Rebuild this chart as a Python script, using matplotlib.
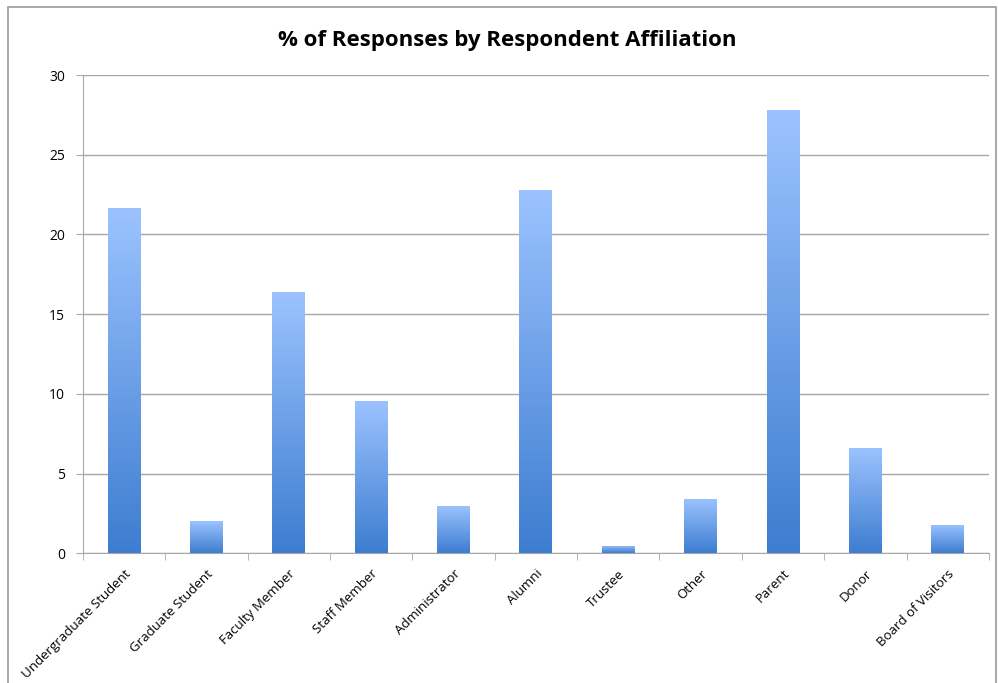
import numpy as np
import matplotlib
matplotlib.use("Agg")
from matplotlib import pyplot as plt
from matplotlib.colors import LinearSegmentedColormap
from matplotlib.patches import Rectangle

categories = ["Undergraduate Student", "Graduate Student", "Faculty Member", "Staff Member",
              "Administrator", "Alumni", "Trustee", "Other", "Parent", "Donor", "Board of Visitors"]
values = [21.65, 2.0, 16.4, 9.55, 2.95, 22.8, 0.45, 3.4, 27.8, 6.6, 1.8]
y_ticks = [0, 5, 10, 15, 20, 25, 30]

plt.rcParams['font.family'] = ['Open Sans', 'DejaVu Sans']

fig = plt.figure(figsize=(9.98, 6.83), dpi=100)
ax = fig.add_axes([0.083, 0.19, 0.908, 0.7])
# outer frame like the pasted chart
fig.patches.append(Rectangle((0.008, -0.01), 0.99, 1.0, transform=fig.transFigure,
                             fill=False, edgecolor='#9a9a9a', linewidth=1.2))

cmap = LinearSegmentedColormap.from_list("bars", ["#3d7dd0", "#9cc3ff"])
grad = np.linspace(0, 1, 256).reshape(-1, 1)

x = np.arange(len(categories))
bars = ax.bar(x, values, width=0.4, color='none', edgecolor='none', zorder=3)
for b in bars:
    x0, y0 = b.get_x(), b.get_y()
    im = ax.imshow(grad, extent=[x0, x0 + b.get_width(), y0, y0 + b.get_height()],
                   origin='lower', aspect='auto', cmap=cmap, zorder=3)
    im.set_clip_path(b)

ax.set_xlim(-0.5, len(categories) - 0.5)
ax.set_ylim(0, 30)
ax.set_yticks(y_ticks)
ax.yaxis.grid(True, color='#a8a8a8', linewidth=1.0)
ax.set_axisbelow(True)

ax.set_xticks(x)
ax.set_xticklabels(categories, rotation=45, ha='right', rotation_mode='anchor', fontsize=9.5)
ax.set_xticks(np.arange(len(categories) + 1) - 0.5, minor=True)
ax.tick_params(axis='x', which='major', length=0, pad=10)
ax.tick_params(axis='x', which='minor', length=5, color='#a8a8a8')
ax.tick_params(axis='y', length=5, color='#a8a8a8', labelsize=10, pad=8)

for s in ['top', 'right']:
    ax.spines[s].set_visible(False)
ax.spines['left'].set_color('#a8a8a8')
ax.spines['bottom'].set_color('#a8a8a8')

fig.text(0.508, 0.94, "% of Responses by Respondent Affiliation", ha='center', va='center',
         fontsize=16, fontweight='bold')

fig.savefig("out.png", dpi=100)
